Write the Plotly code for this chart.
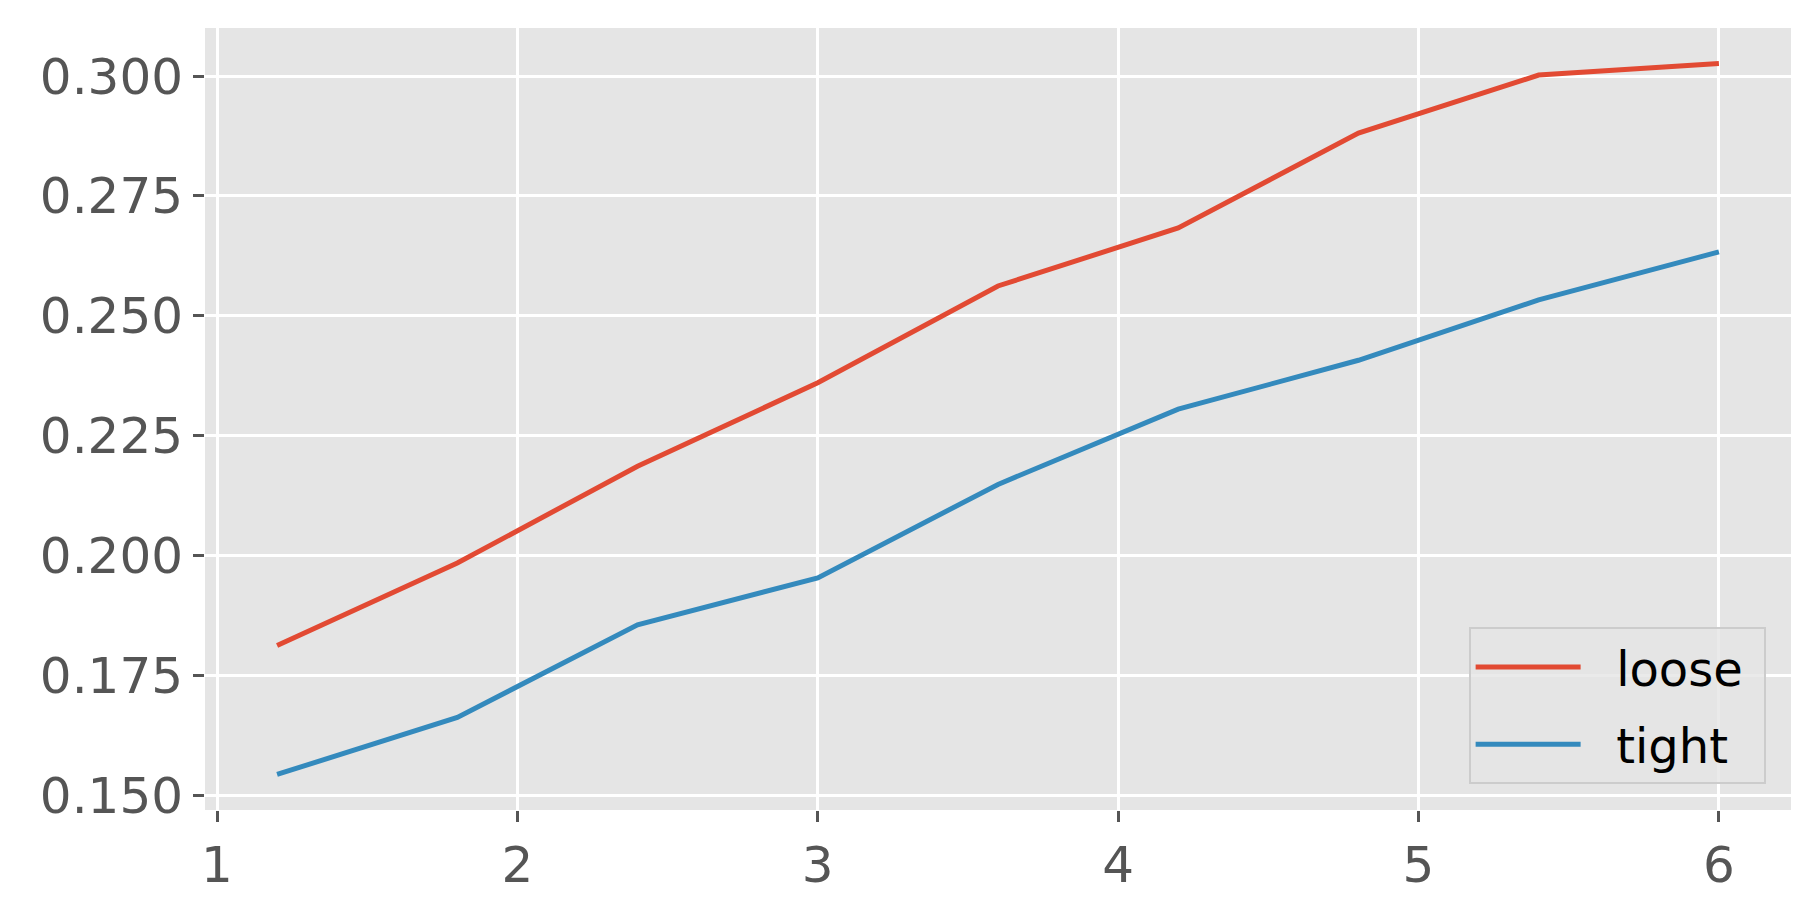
import plotly.graph_objects as go

x_vals = [1.2, 1.8, 2.4, 3.0, 3.6, 4.2, 4.8, 5.4, 6.0]
loose = [0.1812, 0.1984, 0.2186, 0.2360, 0.2562, 0.2683, 0.2881, 0.3002, 0.3026]
tight = [0.1543, 0.1662, 0.1855, 0.1953, 0.2148, 0.2305, 0.2407, 0.2533, 0.2633]
series_names = ["loose", "tight"]
series_colors = ["#E24A33", "#348ABD"]
x_ticks = [1, 2, 3, 4, 5, 6]
y_ticks = [0.150, 0.175, 0.200, 0.225, 0.250, 0.275, 0.300]

fig = go.Figure()
for name, vals, col in zip(series_names, [loose, tight], series_colors):
    fig.add_trace(go.Scatter(x=x_vals, y=vals, mode="lines",
                             name="\u00a0\u00a0" + name + "\u00a0",
                             legendgroup=name,
                             line=dict(color=col, width=5)))

xmin, xmax = min(x_vals), max(x_vals)
xm = (xmax - xmin) * 0.05
allv = loose + tight
ymin, ymax = min(allv), max(allv)
ym = (ymax - ymin) * 0.05

tickfont = dict(family="DejaVu Sans", size=50, color="#555555")
fig.update_layout(
    width=1808, height=898,
    paper_bgcolor="white", plot_bgcolor="#E5E5E5",
    margin=dict(l=197, r=25, t=20, b=89),
    showlegend=True,
    legend=dict(x=0.984, y=0.033, xanchor="right", yanchor="bottom",
                bgcolor="rgba(229,229,229,0.8)", bordercolor="#CCCCCC", borderwidth=2,
                font=dict(family="DejaVu Sans", size=48, color="black"),
                itemwidth=105, tracegroupgap=12),
    xaxis=dict(range=[xmin - xm, xmax + xm], tickvals=x_ticks,
               ticktext=[str(t) for t in x_ticks],
               showgrid=True, gridcolor="white", gridwidth=2.7,
               zeroline=False, showline=False,
               ticks="outside", ticklen=11, tickwidth=2.7, tickcolor="#555555",
               tickfont=tickfont),
    yaxis=dict(range=[ymin - ym, ymax + ym], tickvals=y_ticks,
               ticktext=[f"{t:.3f}" for t in y_ticks],
               showgrid=True, gridcolor="white", gridwidth=2.7,
               zeroline=False, showline=False,
               ticks="outside", ticklen=11, tickwidth=2.7, tickcolor="#555555",
               tickfont=tickfont),
)

fig.write_html("out.html")
